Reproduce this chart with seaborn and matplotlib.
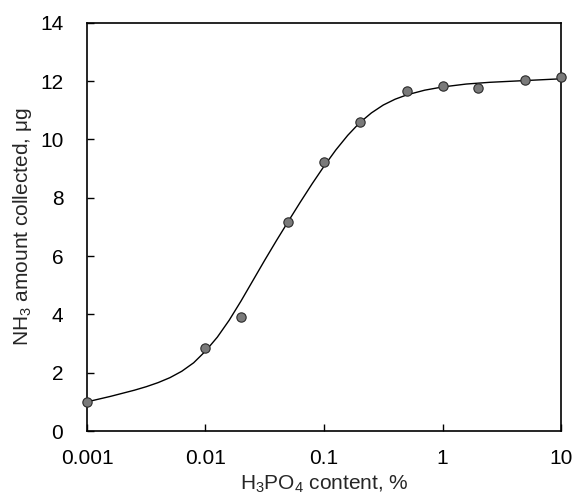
import matplotlib
matplotlib.use("Agg")
import matplotlib.pyplot as plt
import seaborn as sns
import pandas as pd

# measured points
conc = [0.001, 0.01, 0.02, 0.05, 0.1, 0.2, 0.5, 1, 2, 5, 10]
nh3 = [1.0, 2.84, 3.92, 7.18, 9.22, 10.61, 11.66, 11.85, 11.76, 12.05, 12.14]

# fitted curve (log10 of concentration)
curve_logx = [-3.0, -2.8, -2.6, -2.5, -2.4, -2.3, -2.2, -2.1, -2.0, -1.9, -1.8,
              -1.7, -1.6, -1.5, -1.4, -1.3, -1.2, -1.1, -1.0, -0.9, -0.8,
              -0.7, -0.6, -0.5, -0.4, -0.3, -0.15, 0.0, 0.2, 0.4, 0.7, 1.0]
curve_y = [1.00, 1.19, 1.40, 1.52, 1.66, 1.83, 2.05, 2.34, 2.74, 3.22, 3.80,
           4.46, 5.16, 5.86, 6.54, 7.20, 7.85, 8.48, 9.08, 9.64, 10.14,
           10.57, 10.91, 11.18, 11.38, 11.53, 11.69, 11.80, 11.90, 11.96, 12.02, 12.08]

xticks = [0.001, 0.01, 0.1, 1, 10]
xtick_labels = ["0.001", "0.01", "0.1", "1", "10"]
yticks = [0, 2, 4, 6, 8, 10, 12, 14]

sns.set_style("ticks")
plt.rcParams['font.family'] = ['Liberation Sans', 'DejaVu Sans']
plt.rcParams['mathtext.default'] = 'regular'

points = pd.DataFrame({"x": conc, "y": nh3})
curve = pd.DataFrame({"x": [10 ** v for v in curve_logx], "y": curve_y})

fig = plt.figure(figsize=(5.76, 4.96), dpi=100)
ax = fig.add_axes([0.151, 0.131, 0.823, 0.823])

sns.lineplot(data=curve, x="x", y="y", ax=ax, color="black", linewidth=1.0,
             sort=False, estimator=None)
sns.scatterplot(data=points, x="x", y="y", ax=ax, color="#7a7a7a", edgecolor="#2a2a2a",
                linewidth=0.8, s=45, zorder=3, clip_on=False)

ax.set_xscale("log")
ax.set_xlim(0.001, 10)
ax.set_ylim(0, 14)
ax.set_xticks(xticks, xtick_labels)
ax.set_yticks(yticks)
ax.minorticks_off()
ax.tick_params(direction="in", length=5, width=1, labelsize=15, colors="black")
ax.tick_params(axis="x", pad=13)
ax.tick_params(axis="y", pad=17)

for s in ax.spines.values():
    s.set_visible(True)
    s.set_linewidth(1.2)
    s.set_color("black")

ax.set_xlabel("H$_3$PO$_4$ content, %", fontsize=15, labelpad=4)
ax.set_ylabel("NH$_3$ amount collected, μg", fontsize=15, labelpad=4)

plt.savefig("out.png", dpi=100)
